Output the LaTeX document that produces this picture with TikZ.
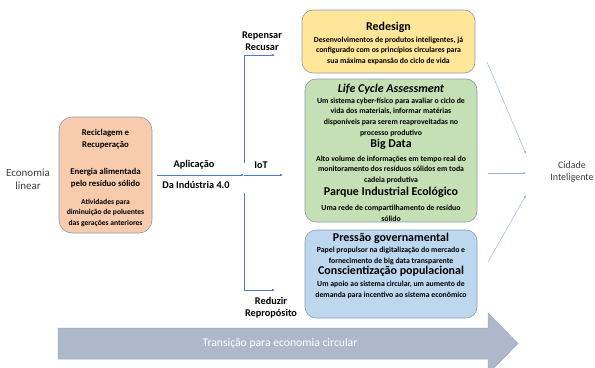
\documentclass[tikz,border=0pt]{standalone}
\usepackage{fontspec}
\setmainfont{Carlito}
\usepackage{tikz}
\usetikzlibrary{arrows.meta,positioning,calc}
\definecolor{flowblue}{HTML}{4A78CC}
\definecolor{rimgray}{HTML}{8A9BB6}
\definecolor{peach}{HTML}{F8CBAD}
\definecolor{sand}{HTML}{FFE699}
\definecolor{sage}{HTML}{C5E0B4}
\definecolor{sky}{HTML}{BDD7EE}
\definecolor{slate}{HTML}{ADB9CA}
\tikzset{
    flow/.style={-{Latex[length=3bp, width=2.6bp]}, line width=0.6bp, flowblue},
    faint/.style={-{Latex[length=3bp, width=2.6bp]}, line width=0.5bp, flowblue!55},
    panel/.style={draw=rimgray, line width=0.6bp, rounded corners=11bp},
    blurb/.style={align=center, inner sep=0pt, font=\fontsize{7.8}{10.6}\selectfont\bfseries},
    tag/.style={align=center, inner sep=0pt, font=\fontsize{10.3}{12.5}\selectfont\bfseries},
    plain/.style={align=center, inner sep=0pt, text=black!75}
}
\newcommand{\headline}[1]{{\fontsize{12}{13}\selectfont #1}}

\begin{document}
\begin{tikzpicture}[x=1bp, y=-1bp]
    \useasboundingbox (0,0) rectangle (595,367);

    \fill[slate, draw=rimgray!80, line width=0.5bp] (58,328) -- (488,328) -- (488,313) -- (518,343.5)
        -- (488,374) -- (488,359) -- (58,359) -- cycle;
    \node[text=white, font=\fontsize{11.7}{13}\selectfont] (transition) at (280,343.5) {Transição para economia circular};

    \node[plain, font=\fontsize{11}{13}\selectfont] (linear) at (28,179) {Economia\\linear};

    \node[panel, fill=peach, rounded corners=13bp, minimum width=93bp, minimum height=116bp] (recycle) at (105.5,175) {};
    \node[tag, font=\fontsize{8.8}{11.8}\selectfont\bfseries, below=12.5bp of recycle.north] (recycletitle) {Reciclagem e\\Recuperação};
    \node[tag, font=\fontsize{8.8}{11.5}\selectfont\bfseries, below=19.5bp of recycletitle] (energy) {Energia alimentada\\pelo resíduo sólido};
    \node[blurb, font=\fontsize{7.6}{10.6}\selectfont\bfseries, below=11bp of energy] (pollution) {Atividades para\\diminuição de poluentes\\das gerações anteriores};

    \coordinate (split) at (244,175);
    \coordinate (iot) at (283,175);
    \coordinate (upfoot) at (244,163);
    \coordinate (rethink) at (275,55);
    \coordinate (downfoot) at (244,193);
    \coordinate (reduce) at (275,290);
    \draw[flow] ([xshift=5bp]recycle.east) -- (split);
    \draw[flow] (split) -- (iot);
    \draw[flow] (upfoot) |- (rethink);
    \draw[flow] (downfoot) |- (reduce);

    \node[tag] (apply) at (194,165) {Aplicação};
    \node[tag] (industry) at (196,185) {Da Indústria 4.0};
    \node[tag] (iotlabel) at (261,165) {IoT};
    \node[tag] (rethinklabel) at (262,41) {Repensar\\Recusar};
    \node[tag] (reducelabel) at (271,307.5) {Reduzir\\Repropósito};

    \node[panel, fill=sand, minimum width=173bp, minimum height=63bp] (redesign) at (388.5,41.5) {};
    \node[blurb, below=12bp of redesign.north] (redesigntext) {\headline{Redesign}\\[1.5bp]
        Desenvolvimentos de produtos inteligentes, já\\
        configurado com os princípios circulares para\\
        sua máxima expansão do ciclo de vida};

    \node[panel, fill=sage, minimum width=172bp, minimum height=143bp] (digital) at (391,150.5) {};
    \node[blurb, below=5bp of digital.north] (digitaltext) {\headline{\itshape Life Cycle Assessment}\\[0.5bp]
        Um sistema cyber-físico para avaliar o ciclo de\\
        vida dos materiais, informar matérias\\
        disponíveis para serem reaproveitadas no\\
        processo produtivo\\[2bp]
        \headline{Big Data}\\[3bp]
        Alto volume de informações em tempo real do\\
        monitoramento dos resíduos sólidos em toda\\
        cadeia produtiva\\[3bp]
        \headline{Parque Industrial Ecológico}\\[4.5bp]
        Uma rede de compartilhamento de resíduo\\
        sólido};

    \node[panel, fill=sky, minimum width=172bp, minimum height=88bp] (society) at (391,274) {};
    \node[blurb, below=3bp of society.north] (societytext) {\headline{Pressão governamental}\\[1bp]
        Papel propulsor na digitalização do mercado e\\
        fornecimento de big data transparente\\[1bp]
        \headline{Conscientização populacional}\\[1bp]
        Um apoio ao sistema circular, um aumento de\\
        demanda para incentivo ao sistema econômico};

    \node[plain, font=\fontsize{10}{12}\selectfont] (city) at (572,172) {Cidade\\Inteligente};
    \coordinate (fromtop) at (487,62);
    \coordinate (frommid) at (488,173);
    \coordinate (frombottom) at (488,262);
    \coordinate (intop) at (526,154);
    \coordinate (inmid) at (526,173);
    \coordinate (inbottom) at (526,195);
    \draw[faint] (fromtop) -- (intop);
    \draw[faint] (frommid) -- (inmid);
    \draw[faint] (frombottom) -- (inbottom);
\end{tikzpicture}
\end{document}
